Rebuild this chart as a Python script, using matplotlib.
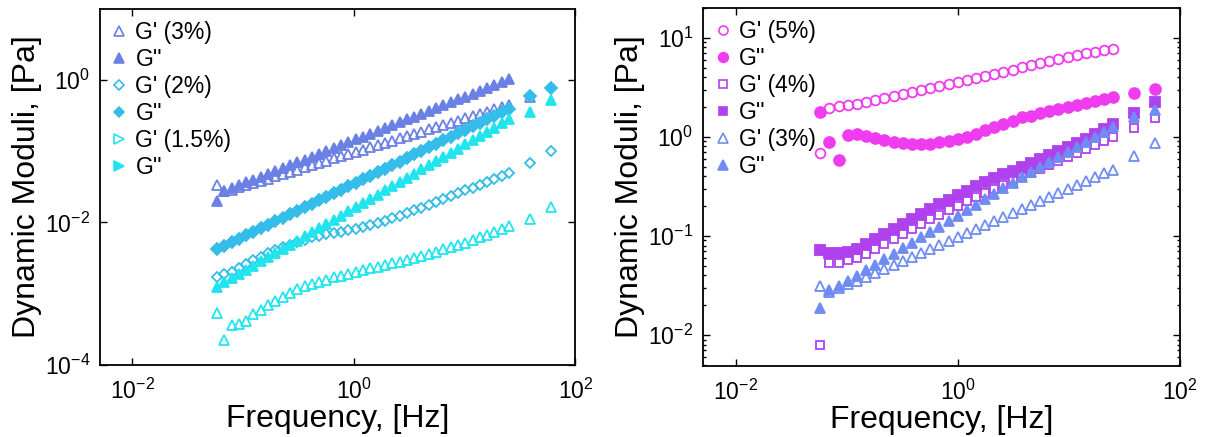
import matplotlib
matplotlib.use("Agg")
import matplotlib.pyplot as plt
from matplotlib.lines import Line2D
from matplotlib.ticker import FixedLocator, LogLocator, NullLocator, NullFormatter

plt.rcParams["font.family"] = ["Liberation Sans", "DejaVu Sans"]
plt.rcParams["mathtext.fontset"] = "custom"
plt.rcParams["mathtext.rm"] = "Liberation Sans"
plt.rcParams["mathtext.it"] = "Liberation Sans:italic"

# frequency sweeps (Hz)
freq_l = [0.058, 0.0675, 0.0786, 0.0914, 0.1064, 0.1239, 0.1442, 0.1678, 0.1953, 0.2273,
          0.2646, 0.3080, 0.3585, 0.4172, 0.4856, 0.5652, 0.6579, 0.7657, 0.8912, 1.037,
          1.207, 1.405, 1.636, 1.904, 2.216, 2.579, 3.002, 3.494, 4.067, 4.733,
          5.509, 6.412, 7.463, 8.686, 10.11, 11.77, 13.70, 15.94, 18.55, 21.59,
          25.13]
freq_r = [0.058, 0.0701, 0.0848, 0.1025, 0.124, 0.150, 0.181, 0.219, 0.265, 0.320,
          0.387, 0.468, 0.566, 0.684, 0.827, 1.00, 1.21, 1.46, 1.77, 2.14,
          2.58, 3.12, 3.78, 4.57, 5.52, 6.68, 8.07, 9.76, 11.8, 14.3,
          17.3, 20.9, 25.2]
freq_hi = [39.0, 60.0]

# ---- left panel: 3%, 2%, 1.5% ----
g1_3 = [0.0339, 0.0275, 0.0288, 0.0310, 0.0333, 0.0358, 0.0385, 0.0413, 0.0445, 0.0478,
        0.0513, 0.0552, 0.0593, 0.0637, 0.0686, 0.0736, 0.0791, 0.0849, 0.0914, 0.0982,
        0.105, 0.114, 0.122, 0.131, 0.141, 0.151, 0.163, 0.175, 0.188, 0.202,
        0.217, 0.233, 0.251, 0.269, 0.289, 0.311, 0.334, 0.359, 0.386, 0.415,
        0.446]
g1_3_hi = [0.58]
g2_3 = [0.020, 0.0275, 0.0302, 0.0331, 0.0364, 0.0399, 0.0438, 0.0480, 0.0526, 0.0578,
        0.0634, 0.0695, 0.0762, 0.0836, 0.0918, 0.101, 0.110, 0.121, 0.133, 0.146,
        0.160, 0.175, 0.192, 0.211, 0.232, 0.254, 0.279, 0.306, 0.335, 0.368,
        0.404, 0.443, 0.485, 0.532, 0.585, 0.641, 0.703, 0.771, 0.845, 0.929,
        1.02]
g1_2 = [0.00174, 0.00187, 0.00204, 0.00228, 0.00259, 0.00295, 0.00330, 0.00368, 0.00407, 0.00447,
        0.00490, 0.00532, 0.00574, 0.00615, 0.00655, 0.00692, 0.00718, 0.00745, 0.00773, 0.00805,
        0.00851, 0.00908, 0.00975, 0.0105, 0.0115, 0.0124, 0.0136, 0.0149, 0.0162, 0.0178,
        0.0195, 0.0214, 0.0234, 0.0257, 0.0282, 0.0309, 0.0339, 0.0372, 0.0407, 0.0447,
        0.0490]
g1_2_hi = [0.068, 0.100]
g2_2 = [0.00417, 0.00467, 0.00524, 0.00586, 0.00658, 0.00736, 0.00824, 0.00925, 0.0104, 0.0116,
        0.0130, 0.0146, 0.0163, 0.0183, 0.0205, 0.0230, 0.0257, 0.0288, 0.0323, 0.0362,
        0.0406, 0.0454, 0.0509, 0.0570, 0.0640, 0.0716, 0.0802, 0.0899, 0.101, 0.113,
        0.126, 0.142, 0.159, 0.178, 0.200, 0.223, 0.250, 0.281, 0.314, 0.352,
        0.394]
g2_2_hi = [0.59, 0.78]
g1_15 = [5.37e-4, 2.24e-4, 3.63e-4, 3.80e-4, 4.07e-4, 5.25e-4, 5.89e-4, 6.92e-4, 7.94e-4, 9.12e-4,
         1.02e-3, 1.17e-3, 1.29e-3, 1.38e-3, 1.48e-3, 1.58e-3, 1.70e-3, 1.78e-3, 1.91e-3, 2.02e-3,
         2.14e-3, 2.26e-3, 2.39e-3, 2.52e-3, 2.67e-3, 2.82e-3, 2.98e-3, 3.15e-3, 3.36e-3, 3.61e-3,
         3.89e-3, 4.19e-3, 4.51e-3, 4.85e-3, 5.22e-3, 5.62e-3, 6.17e-3, 6.76e-3, 7.41e-3, 8.13e-3,
         8.91e-3]
g1_15_hi = [0.011, 0.0166]
g2_15 = [0.00126, 0.00144, 0.00165, 0.00189, 0.00216, 0.00247, 0.00283, 0.00324, 0.00372, 0.00425,
         0.00486, 0.00557, 0.00637, 0.00730, 0.00836, 0.00955, 0.0109, 0.0125, 0.0144, 0.0164,
         0.0188, 0.0215, 0.0246, 0.0282, 0.0323, 0.0369, 0.0423, 0.0484, 0.0555, 0.0634,
         0.0726, 0.0832, 0.0951, 0.109, 0.125, 0.143, 0.163, 0.187, 0.214, 0.245,
         0.281]
g2_15_hi = [0.36, 0.52]

# ---- right panel: 5%, 4%, 3% ----
g1_5 = [0.68, 1.95, 2.04, 2.09, 2.16, 2.24, 2.34, 2.45, 2.57, 2.69,
        2.82, 2.95, 3.09, 3.24, 3.39, 3.55, 3.72, 3.89, 4.07, 4.27,
        4.47, 4.73, 5.01, 5.25, 5.56, 5.82, 6.10, 6.38, 6.68, 7.00,
        7.24, 7.50, 7.76]
g2_5 = [1.79, 0.89, 0.58, 1.04, 1.08, 1.02, 0.966, 0.923, 0.891, 0.867,
        0.851, 0.847, 0.855, 0.881, 0.912, 0.955, 1.00, 1.07, 1.17, 1.26,
        1.35, 1.45, 1.57, 1.64, 1.74, 1.82, 1.91, 2.00, 2.09, 2.19,
        2.29, 2.40, 2.51]
g2_5_hi = [2.75, 3.02]
g1_4 = [0.0079, 0.0537, 0.0537, 0.0575, 0.0603, 0.0661, 0.0741, 0.0832, 0.0933, 0.105,
        0.117, 0.132, 0.148, 0.164, 0.182, 0.202, 0.224, 0.248, 0.272, 0.299,
        0.327, 0.359, 0.394, 0.432, 0.473, 0.519, 0.569, 0.624, 0.684, 0.750,
        0.822, 0.902, 1.00]
g1_4_hi = [1.23, 1.55]
g2_4 = [0.0724, 0.0676, 0.0676, 0.0692, 0.0741, 0.0832, 0.0933, 0.105, 0.117, 0.132,
        0.148, 0.166, 0.186, 0.209, 0.232, 0.257, 0.285, 0.316, 0.347, 0.380,
        0.417, 0.457, 0.501, 0.550, 0.603, 0.661, 0.724, 0.794, 0.871, 0.955,
        1.07, 1.20, 1.35]
g2_4_hi = [1.74, 2.23]
g1_3r = [0.0316, 0.0269, 0.0295, 0.0324, 0.0355, 0.0389, 0.0427, 0.0468, 0.0513, 0.0562,
         0.0617, 0.0676, 0.0741, 0.0813, 0.0891, 0.0977, 0.107, 0.117, 0.129, 0.141,
         0.155, 0.170, 0.186, 0.204, 0.224, 0.245, 0.269, 0.295, 0.324, 0.355,
         0.389, 0.427, 0.468]
g1_3r_hi = [0.646, 0.871]
g2_3r = [0.0186, 0.0282, 0.0316, 0.0355, 0.0398, 0.0452, 0.0513, 0.0582, 0.0661, 0.0750,
         0.0851, 0.0966, 0.110, 0.124, 0.141, 0.160, 0.182, 0.207, 0.234, 0.266,
         0.302, 0.343, 0.389, 0.442, 0.501, 0.562, 0.631, 0.708, 0.794, 0.891,
         1.00, 1.12, 1.26]
g2_3r_hi = [1.58, 1.86]

c_3 = "#6b80e4"
c_2 = "#33bde8"
c_15 = "#22e4ee"
c_5 = "#f03cf0"
c_4 = "#b042ee"
c_3r = "#6e8cf2"

fig = plt.figure(figsize=(12.07, 4.37), dpi=100)
ax1 = fig.add_axes([0.0828, 0.165, 0.394, 0.815])
ax2 = fig.add_axes([0.5825, 0.163, 0.395, 0.819])


def pts(ax, x, y, marker, color, filled, ms):
    fc = color if filled else "none"
    ax.plot(x, y, linestyle="none", marker=marker, color=color, mfc=fc,
            mec=color, ms=ms, mew=1.3)


# left
pts(ax1, freq_l + freq_hi[:1], g1_3 + g1_3_hi, "^", c_3, False, 7)
pts(ax1, freq_l, g2_3, "^", c_3, True, 7.2)
pts(ax1, freq_l + freq_hi, g1_2 + g1_2_hi, "D", c_2, False, 5.5)
pts(ax1, freq_l + freq_hi, g2_2 + g2_2_hi, "D", c_2, True, 5.7)
pts(ax1, freq_l + freq_hi, g1_15 + g1_15_hi, "^", c_15, False, 7)
pts(ax1, freq_l + freq_hi, g2_15 + g2_15_hi, "^", c_15, True, 7.2)

# right
pts(ax2, freq_r, g1_5, "o", c_5, False, 7)
pts(ax2, freq_r + freq_hi, g2_5 + g2_5_hi, "o", c_5, True, 7.8)
pts(ax2, freq_r + freq_hi, g1_4 + g1_4_hi, "s", c_4, False, 6)
pts(ax2, freq_r + freq_hi, g2_4 + g2_4_hi, "s", c_4, True, 6.8)
pts(ax2, freq_r + freq_hi, g1_3r + g1_3r_hi, "^", c_3r, False, 7.2)
pts(ax2, freq_r + freq_hi, g2_3r + g2_3r_hi, "^", c_3r, True, 7.8)


def leg_handle(marker, color, filled, ms):
    return Line2D([], [], linestyle="none", marker=marker, color=color,
                  mfc=color if filled else "none", mec=color, ms=ms, mew=1.2)


h1 = [leg_handle("^", c_3, False, 6.5), leg_handle("^", c_3, True, 6.5),
      leg_handle("D", c_2, False, 5), leg_handle("D", c_2, True, 5),
      leg_handle(">", c_15, False, 6.5), leg_handle(">", c_15, True, 6.5)]
l1 = ["G' (3%)", "G''", "G' (2%)", "G''", "G' (1.5%)", "G''"]
h2 = [leg_handle("o", c_5, False, 6.5), leg_handle("o", c_5, True, 7),
      leg_handle("s", c_4, False, 5.5), leg_handle("s", c_4, True, 6),
      leg_handle("^", c_3r, False, 6.5), leg_handle("^", c_3r, True, 7)]
l2 = ["G' (5%)", "G''", "G' (4%)", "G''", "G' (3%)", "G''"]

for ax, h, l in [(ax1, h1, l1), (ax2, h2, l2)]:
    ax.legend(h, l, loc="upper left", frameon=False, fontsize=16.5,
              handlelength=0.6, handletextpad=0.4, labelspacing=0.17,
              borderaxespad=0.3, borderpad=0.25)

for ax in (ax1, ax2):
    ax.set_xscale("log")
    ax.set_yscale("log")
    ax.set_xlim(0.0051, 100)
    ax.xaxis.set_major_locator(FixedLocator([1e-2, 1e0, 1e2]))
    ax.xaxis.set_minor_locator(NullLocator())
    ax.tick_params(which="both", direction="in", top=True, right=True,
                   labelsize=16.5, width=1.0)
    ax.tick_params(axis="x", pad=10)
    ax.tick_params(axis="y", pad=7)
    ax.tick_params(which="major", length=5)
    ax.tick_params(which="minor", length=2.5)
    for s in ax.spines.values():
        s.set_linewidth(1.3)
    ax.set_xlabel("Frequency, [Hz]", fontsize=23, labelpad=0)
    ax.set_ylabel("Dynamic Moduli, [Pa]", fontsize=23, labelpad=2)

ax1.set_ylim(1e-4, 1e1)
ax1.yaxis.set_major_locator(FixedLocator([1e-4, 1e-2, 1e0]))
ax1.yaxis.set_minor_locator(NullLocator())

ax2.set_ylim(0.0049, 20)
ax2.yaxis.set_major_locator(FixedLocator([1e-2, 1e-1, 1e0, 1e1]))
ax2.yaxis.set_minor_locator(LogLocator(base=10, subs=range(2, 10)))
ax2.yaxis.set_minor_formatter(NullFormatter())

fig.savefig("out.png", dpi=100)
